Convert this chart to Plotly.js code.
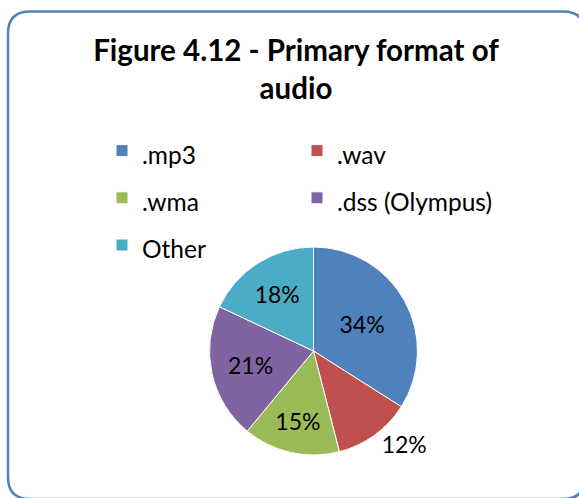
<!DOCTYPE html>
<html>
<head>
<meta charset="utf-8">
<script src="https://cdn.plot.ly/plotly-3.0.1.min.js"></script>
<style>
  html, body { margin: 0; padding: 0; background: #ffffff; overflow: hidden; }
  #chart { width: 579px; height: 498px; }
</style>
</head>
<body>
<div id="chart"></div>
<script>
// Primary audio format shares (percent)
const formats = ['.mp3', '.wav', '.wma', '.dss (Olympus)', 'Other'];
const shares = [34, 12, 15, 21, 18];
const sliceColors = ['#4F81BD', '#C0504D', '#9BBB59', '#8064A2', '#4BACC6'];
const labelPositions = ['inside', 'outside', 'inside', 'inside', 'inside'];

const W = 579, H = 498;
const px = v => v / W;          // pixel -> paper x
const py = v => 1 - v / H;      // pixel -> paper y

const FONT = 'Lato, "Open Sans", sans-serif';

// Legend rows are spaced with a large legend font; the visible text is sized down.
const legendLabels = formats.map(f => '<span style="font-size:24.5px">' + f + '</span>');

const trace = {
  type: 'pie',
  labels: legendLabels,
  values: shares,
  sort: false,
  direction: 'clockwise',
  rotation: 0,
  marker: { colors: sliceColors, line: { color: '#ffffff', width: 1 } },
  textinfo: 'percent',
  texttemplate: '%{percent:.0%}',
  textposition: labelPositions,
  insidetextorientation: 'horizontal',
  textfont: { family: FONT, size: 23, color: '#000000' },
  insidetextfont: { family: FONT, size: 23, color: '#000000' },
  outsidetextfont: { family: FONT, size: 23, color: '#000000' },
  hoverinfo: 'label+percent',
  domain: { x: [px(209.5), px(417.5)], y: [py(455), py(247)] }
};

// Rounded chart-area frame
const x0 = px(8), x1 = px(585), y0 = py(11.5), y1 = py(499);
const rx = px(22) - px(0), ry = (22 / H);
const framePath = [
  'M', x0 + rx, y0,
  'L', x1 - rx, y0,
  'Q', x1, y0, x1, y0 - ry,
  'L', x1, y1 + ry,
  'Q', x1, y1, x1 - rx, y1,
  'L', x0 + rx, y1,
  'Q', x0, y1, x0, y1 + ry,
  'L', x0, y0 - ry,
  'Q', x0, y0, x0 + rx, y0, 'Z'
].join(' ');

const layout = {
  width: W,
  height: H,
  margin: { l: 0, r: 0, t: 0, b: 0, pad: 0 },
  paper_bgcolor: '#ffffff',
  plot_bgcolor: '#ffffff',
  font: { family: FONT, color: '#000000' },
  title: {
    text: '<b>Figure 4.12 - Primary format of<br>audio</b>',
    font: { family: FONT, size: 29.5, color: '#000000' },
    x: px(296), xanchor: 'center', xref: 'paper',
    y: py(61), yanchor: 'top', yref: 'paper'
  },
  showlegend: true,
  legend: {
    orientation: 'h',
    x: px(102), xanchor: 'left',
    y: py(122), yanchor: 'top',
    font: { family: FONT, size: 34, color: '#000000' },
    itemwidth: 30,
    entrywidth: 150,
    entrywidthmode: 'pixels',
    bgcolor: 'rgba(0,0,0,0)',
    borderwidth: 0,
    traceorder: 'normal'
  },
  shapes: [{
    type: 'path',
    xref: 'paper', yref: 'paper',
    path: framePath,
    line: { color: '#4F81BD', width: 2.5 },
    fillcolor: 'rgba(0,0,0,0)',
    layer: 'above'
  }]
};

Plotly.newPlot('chart', [trace], layout, { displayModeBar: false, staticPlot: true });
</script>
</body>
</html>
